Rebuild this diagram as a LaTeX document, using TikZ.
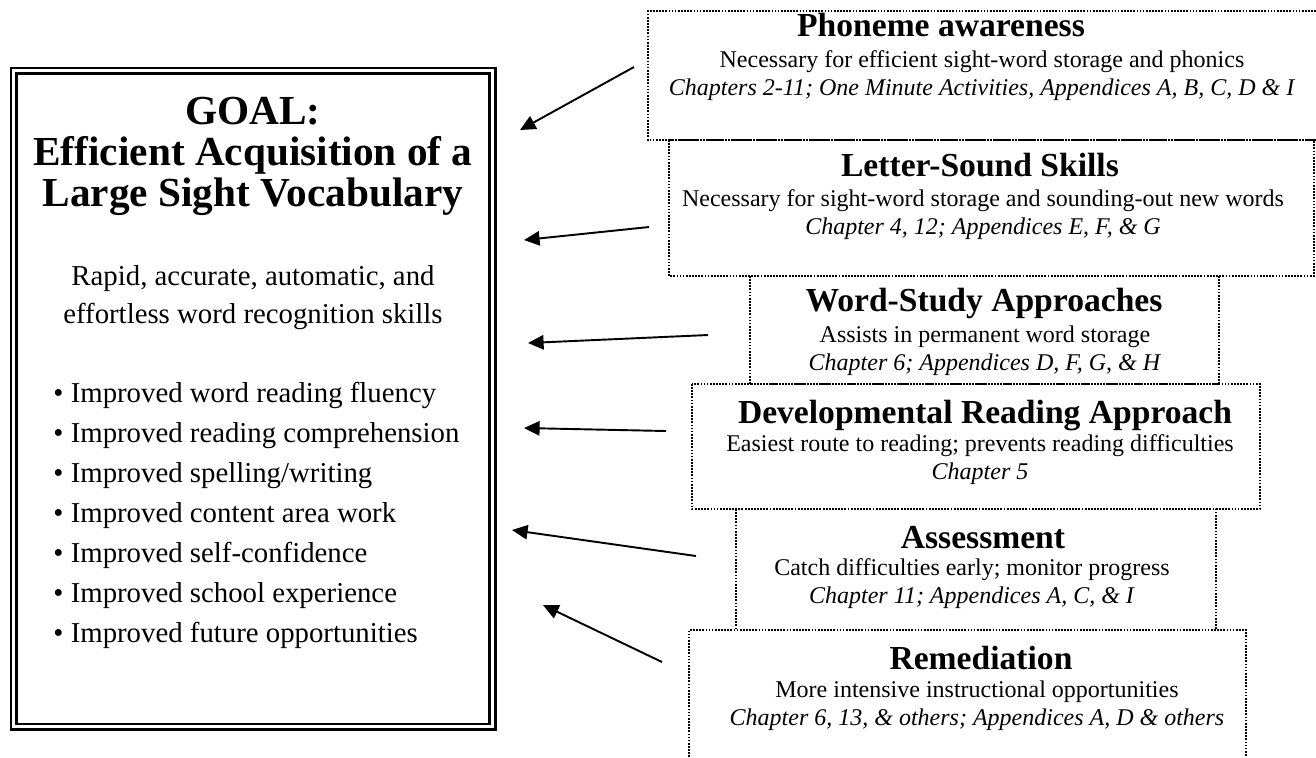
\documentclass[tikz,border=0pt]{standalone}
\usepackage{fontspec}
\setmainfont{Liberation Serif}
\usetikzlibrary{arrows.meta}

\tikzset{
  dotbox/.style={line width=0.9pt, dash pattern=on 0.7pt off 0.6pt},
  boxhead/.style={font=\fontsize{14}{16}\selectfont\bfseries, inner sep=0pt},
  boxtext/.style={font=\fontsize{10}{11.7}\selectfont, align=center, inner sep=0pt},
  goalarrow/.style={line width=0.8pt, -{Triangle[length=6.5pt,width=6pt]}}
}

\begin{document}
\begin{tikzpicture}[x=0.4167pt, y=-0.4167pt]
  \useasboundingbox (0,0) rectangle (1316,757);

  \draw[line width=0.9pt] (11,68) rectangle (495.5,729.5);
  \draw[line width=1.2pt] (16.5,73.5) rectangle (489.5,724);
  \node[font=\fontsize{17.2}{17.1}\selectfont\bfseries, align=center, inner sep=0pt]
    (goalhead) at (253,156) {GOAL:\\Efficient Acquisition of a\\Large Sight Vocabulary};
  \node[font=\fontsize{12}{15.8}\selectfont, align=center, inner sep=0pt]
    (goaltext) at (253,298) {Rapid, accurate, automatic, and\\effortless word recognition skills};
  \node[font=\fontsize{12}{16.67}\selectfont, align=left, inner sep=0pt, anchor=west]
    (goallist) at (53,515) {\textbullet\ Improved word reading fluency\\
      \textbullet\ Improved reading comprehension\\
      \textbullet\ Improved spelling/writing\\
      \textbullet\ Improved content area work\\
      \textbullet\ Improved self-confidence\\
      \textbullet\ Improved school experience\\
      \textbullet\ Improved future opportunities};

  \draw[dotbox] (1316,11) -- (648,11) -- (648,140) -- (1316,140);
  \draw[dotbox] (669,140) rectangle (1314,276);
  \draw[dotbox] (750,276) rectangle (1219,384);
  \draw[dotbox] (692,384) rectangle (1260,509);
  \draw[dotbox] (736,509) rectangle (1216,630);
  \draw[dotbox] (689,757) -- (689,630) -- (1246,630) -- (1246,757);

  \node[boxhead] (phonhead) at (941,25) {Phoneme awareness};
  \node[boxtext] (phontext) at (982,76)
    {Necessary for efficient sight-word storage and phonics\\
     \textit{Chapters 2-11; One Minute Activities, Appendices A, B, C, D \& I}};
  \node[boxhead] (letthead) at (980,165) {Letter-Sound Skills};
  \node[boxtext] (letttext) at (983,215)
    {Necessary for sight-word storage and sounding-out new words\\
     \textit{Chapter 4, 12; Appendices E, F, \& G}};
  \node[boxhead] (wordhead) at (984,303) {Word-Study Approaches};
  \node[boxtext] (wordtext) at (985,351)
    {Assists in permanent word storage\\
     \textit{Chapter 6; Appendices D, F, G, \& H}};
  \node[boxhead] (devhead) at (985,416) {Developmental Reading Approach};
  \node[boxtext] (devtext) at (980,460)
    {Easiest route to reading; prevents reading difficulties\\
     \textit{Chapter 5}};
  \node[boxhead] (asshead) at (983,538) {Assessment};
  \node[boxtext] (asstext) at (972,584)
    {Catch difficulties early; monitor progress\\
     \textit{Chapter 11; Appendices A, C, \& I}};
  \node[boxhead] (remhead) at (981,658) {Remediation};
  \node[boxtext] (remtext) at (977,706)
    {More intensive instructional opportunities\\
     \textit{Chapter 6, 13, \& others; Appendices A, D \& others}};

  \coordinate (phonfrom) at (634,67);  \coordinate (phonto) at (520,130);
  \coordinate (lettfrom) at (649,227); \coordinate (lettto) at (524,240);
  \coordinate (wordfrom) at (708,335); \coordinate (wordto) at (528,343);
  \coordinate (devfrom) at (666,431);  \coordinate (devto) at (524,428);
  \coordinate (assfrom) at (696,556);  \coordinate (assto) at (512,530);
  \coordinate (remfrom) at (662,662);  \coordinate (remto) at (543,605);
  \draw[goalarrow] (phonfrom) -- (phonto);
  \draw[goalarrow] (lettfrom) -- (lettto);
  \draw[goalarrow] (wordfrom) -- (wordto);
  \draw[goalarrow] (devfrom) -- (devto);
  \draw[goalarrow] (assfrom) -- (assto);
  \draw[goalarrow] (remfrom) -- (remto);
\end{tikzpicture}
\end{document}
